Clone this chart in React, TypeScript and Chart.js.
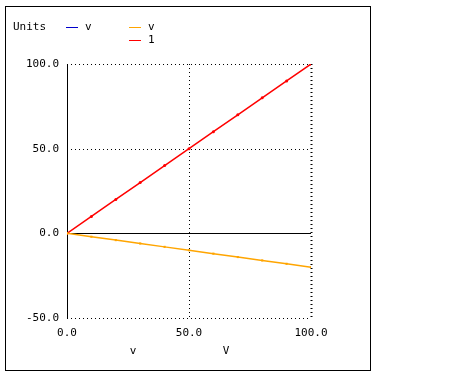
import React, { useEffect, useRef } from "react";
import { Chart, registerables } from "chart.js";

Chart.register(...registerables);

const xValues = [0, 10, 20, 30, 40, 50, 60, 70, 80, 90, 100];
const redValues = [0, 10, 20, 30, 40, 50, 60, 70, 80, 90, 100];
const orangeValues = [0, -2, -4, -6, -8, -10, -12, -14, -16, -18, -20];
const blueValues: number[] = [];
const seriesNames = ["v", "v", "1"];
const legendTitle = "Units";
const xTitles = ["v", "V"];
const yTicks = [-50, 0, 50, 100];
const xTicks = [0, 50, 100];

const FONT = "DejaVu Sans Mono";

const decor = {
  id: "decor",
  beforeDatasetsDraw(chart: any) {
    const ctx = chart.ctx;
    const xs = chart.scales.x;
    const ys = chart.scales.y;
    const area = chart.chartArea;
    ctx.save();
    for (const v of yTicks) {
      const y = Math.round(ys.getPixelForValue(v)) + 0.5;
      ctx.beginPath();
      ctx.strokeStyle = "#000";
      ctx.lineWidth = 1;
      ctx.setLineDash(v === 0 ? [] : [1, 3]);
      ctx.moveTo(area.left, y);
      ctx.lineTo(area.right, y);
      ctx.stroke();
    }
    for (const v of xTicks) {
      const x = Math.round(xs.getPixelForValue(v)) + 0.5;
      ctx.beginPath();
      ctx.strokeStyle = "#000";
      ctx.lineWidth = v === 100 ? 2 : 1;
      ctx.setLineDash(v === 0 ? [] : [1, 3]);
      ctx.moveTo(x, area.top);
      ctx.lineTo(x, area.bottom);
      ctx.stroke();
    }
    ctx.restore();
  },
  afterDraw(chart: any) {
    const ctx = chart.ctx;
    ctx.save();
    ctx.setLineDash([]);
    ctx.strokeStyle = "#000";
    ctx.lineWidth = 1;
    ctx.strokeRect(5.5, 6.5, 365, 364);
    ctx.font = `11px ${FONT}`;
    ctx.fillStyle = "#000";
    ctx.textBaseline = "middle";
    ctx.textAlign = "left";
    ctx.fillText(legendTitle, 13, 27);
    const ds = chart.data.datasets;
    const pos = [
      [66, 27],
      [129, 27],
      [129, 40],
    ];
    ds.forEach((d: any, i: number) => {
      const [lx, ly] = pos[i];
      ctx.beginPath();
      ctx.strokeStyle = d.borderColor;
      ctx.lineWidth = 1;
      ctx.moveTo(lx, ly + 0.5);
      ctx.lineTo(lx + 12, ly + 0.5);
      ctx.stroke();
      ctx.fillStyle = "#000";
      ctx.fillText(seriesNames[i], lx + 19, ly);
    });
    ctx.textAlign = "center";
    ctx.fillText(xTitles[0], 133, 351);
    ctx.fillText(xTitles[1], 226, 351);
    ctx.restore();
  },
};

export default function App() {
  const ref = useRef<HTMLCanvasElement>(null);
  useEffect(() => {
    const chart = new Chart(ref.current!, {
      type: "line",
      data: {
        datasets: [
          {
            label: seriesNames[0],
            data: blueValues.map((v, i) => ({ x: xValues[i], y: v })),
            borderColor: "#0000cc",
            backgroundColor: "#0000cc",
            borderWidth: 1,
            pointRadius: 0,
          },
          {
            label: seriesNames[1],
            data: orangeValues.map((v, i) => ({ x: xValues[i], y: v })),
            borderColor: "#ffa500",
            backgroundColor: "#ffa500",
            borderWidth: 1.5,
            pointRadius: 1.5,
            pointStyle: "rect",
            pointBorderWidth: 0,
          },
          {
            label: seriesNames[2],
            data: redValues.map((v, i) => ({ x: xValues[i], y: v })),
            borderColor: "#ff0000",
            backgroundColor: "#ff0000",
            borderWidth: 1.5,
            pointRadius: 1.5,
            pointBorderWidth: 0,
          },
        ],
      },
      options: {
        animation: false,
        responsive: false,
        maintainAspectRatio: false,
        layout: { padding: { left: 0, top: 64, right: 162, bottom: 29 } },
        plugins: { legend: { display: false }, tooltip: { enabled: false } },
        scales: {
          x: {
            type: "linear",
            min: 0,
            max: 100,
            afterFit: (s: any) => {
              s.height = 30;
            },
            afterBuildTicks: (s: any) => {
              s.ticks = xTicks.map((v) => ({ value: v }));
            },
            ticks: {
              padding: 9,
              color: "#000",
              font: { family: FONT, size: 11 },
              maxRotation: 0,
              callback: (v: any) => Number(v).toFixed(1),
            },
            grid: { display: false, drawTicks: false },
            border: { display: false },
          },
          y: {
            type: "linear",
            min: -50,
            max: 100,
            afterFit: (s: any) => {
              s.width = 67;
            },
            afterBuildTicks: (s: any) => {
              s.ticks = yTicks.map((v) => ({ value: v }));
            },
            ticks: {
              padding: 8,
              color: "#000",
              font: { family: FONT, size: 11 },
              callback: (v: any) => Number(v).toFixed(1),
            },
            grid: { display: false, drawTicks: false },
            border: { display: false },
          },
        },
      },
      plugins: [decor],
    } as any);
    return () => chart.destroy();
  }, []);
  return (
    <div style={{ position: "fixed", left: 0, top: 0, width: 473, height: 377, background: "#fff" }}>
      <canvas ref={ref} width={473} height={377} style={{ width: 473, height: 377 }} />
    </div>
  );
}
